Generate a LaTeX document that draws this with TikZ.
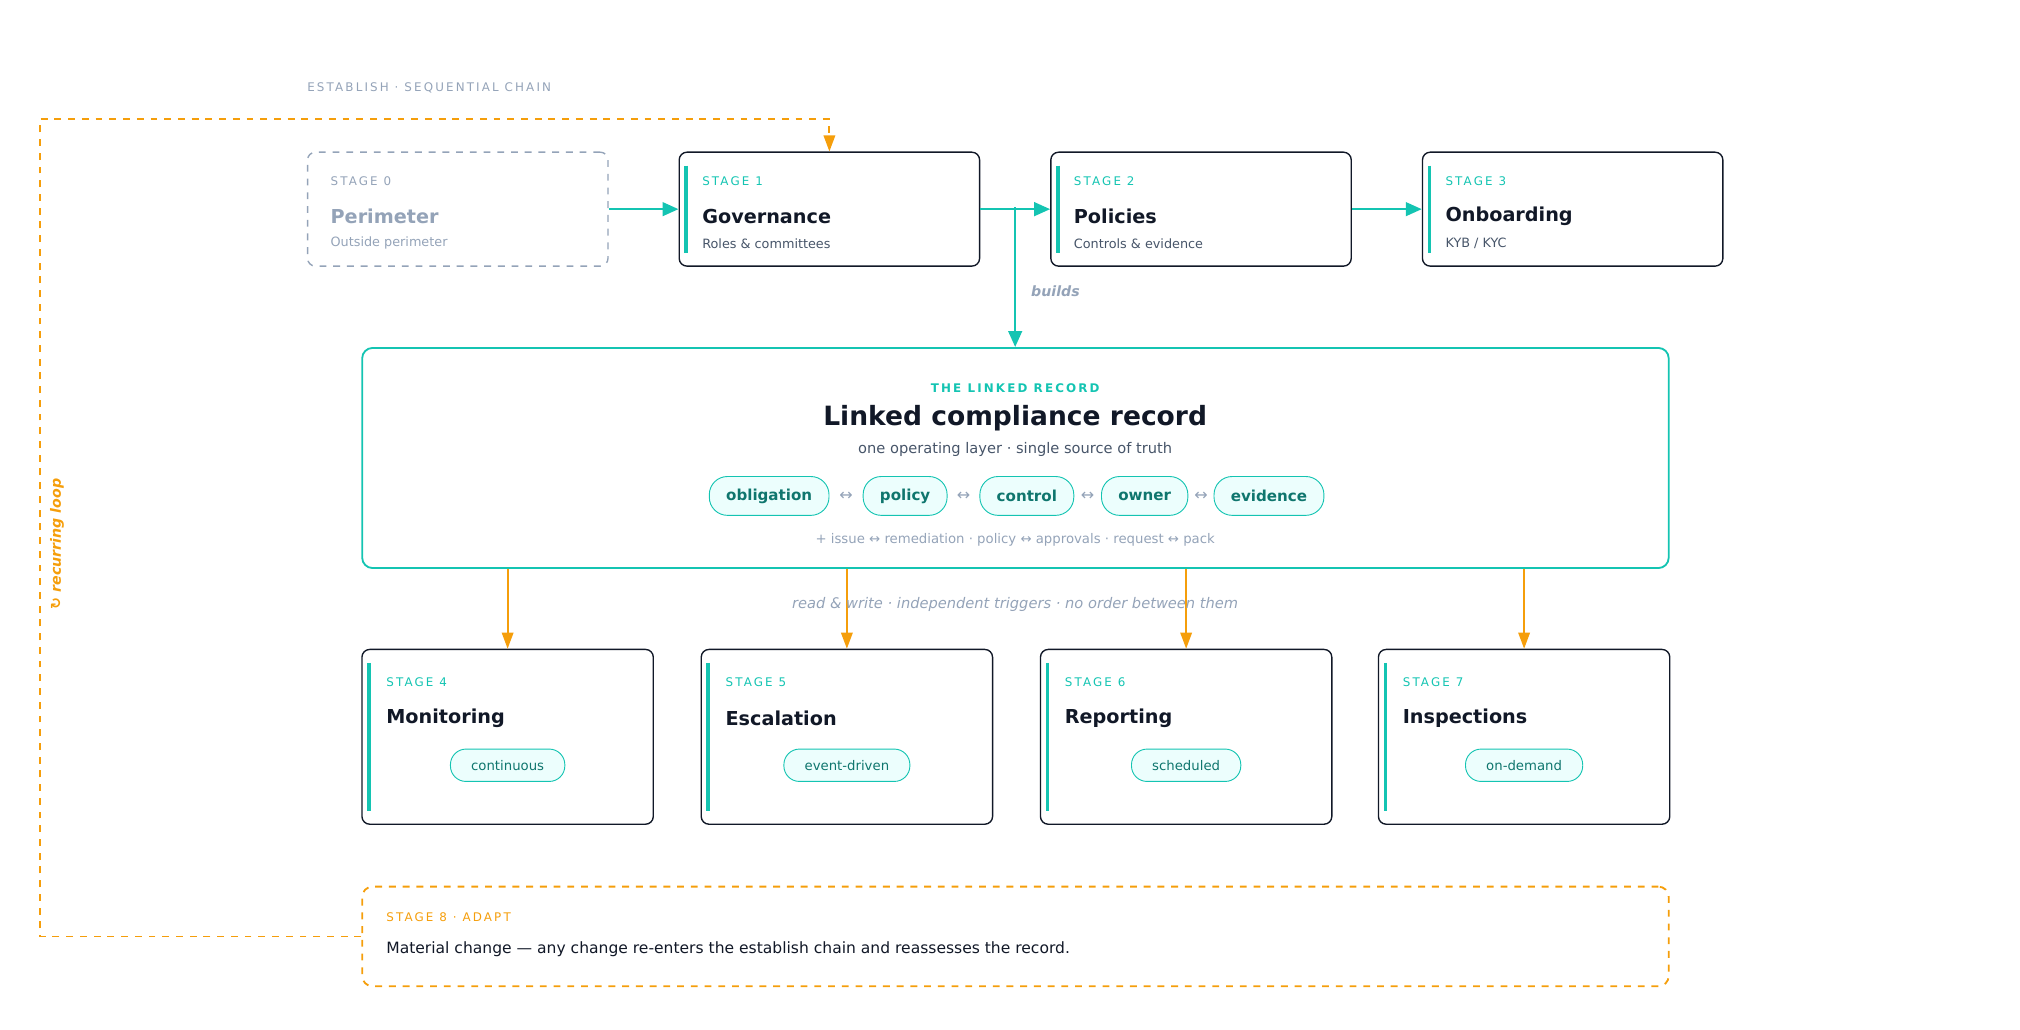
\documentclass[tikz,border=0pt]{standalone}
\usepackage{fontspec}
\setmainfont{DejaVu Sans}
\usetikzlibrary{arrows.meta,positioning,calc}
\definecolor{teal1}{HTML}{14C4B2}
\definecolor{ink}{HTML}{111827}
\definecolor{slate}{HTML}{94A3B8}
\definecolor{body}{HTML}{475569}
\definecolor{amber}{HTML}{F59E0B}
\definecolor{pillbg}{HTML}{ECFEFD}
\definecolor{pilltx}{HTML}{0F766E}
\newdimen\px \px=0.0199cm
\newcommand{\spaced}[1]{{\addfontfeature{LetterSpace=18}#1}}
\tikzset{
  stagebox/.style={draw=ink,rounded corners=6\px,minimum width=232\px,minimum height=88\px,line width=0.6pt,anchor=north west},
  lowbox/.style={draw=ink,rounded corners=6\px,minimum width=225\px,minimum height=135\px,line width=0.6pt,anchor=north west},
  kicker/.style={anchor=west,inner xsep=0pt,font=\fontsize{5.2}{6}\selectfont,text=teal1},
  stitle/.style={anchor=west,inner xsep=0pt,font=\fontsize{8.4}{10}\selectfont\bfseries,text=ink},
  ssub/.style={anchor=west,inner xsep=0pt,font=\fontsize{5.6}{7}\selectfont,text=body},
  bar/.style={teal1,line width=1.6pt},
  pill/.style={draw=teal1,fill=pillbg,rounded corners=14\px,minimum height=30\px,inner xsep=13\px,font=\fontsize{6.6}{8}\selectfont\bfseries,text=pilltx},
  tag/.style={draw=teal1,fill=pillbg,rounded corners=12\px,minimum height=25\px,inner xsep=16\px,font=\fontsize{5.8}{7}\selectfont,text=pilltx},
  link/.style={font=\fontsize{7}{8}\selectfont,text=slate},
  flow/.style={teal1,line width=1pt,-{Triangle[length=7pt,width=6pt]}},
  feed/.style={amber,line width=0.8pt,-{Triangle[length=7pt,width=5pt]}},
}
\begin{document}
\begin{tikzpicture}[x=0.0199cm,y=-0.0199cm]
\useasboundingbox (0,0) rectangle (1560,795);
% establish chain
\node[kicker,text=slate] (chainlbl) at (237,68) {\spaced{ESTABLISH · SEQUENTIAL CHAIN}};
\node[stagebox,draw=slate,dashed] (s0) at (237,117) {};
\node[stagebox] (s1) at (524,117) {};
\node[stagebox] (s2) at (811,117) {};
\node[stagebox] (s3) at (1098,117) {};
\node[kicker,text=slate] at (255,140) {\spaced{STAGE 0}};
\node[stitle,text=slate] at (255,167) {Perimeter};
\node[ssub,text=slate] at (255,188) {Outside perimeter};
\foreach \b/\k/\t/\s in {s1/STAGE 1/Governance/Roles \& committees,s2/STAGE 2/Policies/Controls \& evidence,s3/STAGE 3/Onboarding/KYB \slash{} KYC}{
  \draw[bar] ([xshift=6\px,yshift=-11\px]\b.north west) -- ([xshift=6\px,yshift=11\px]\b.south west);
  \node[kicker] at ([xshift=18\px,yshift=-23\px]\b.north west) {\spaced{\k}};
  \node[stitle] at ([xshift=18\px,yshift=-50\px]\b.north west) {\t};
  \node[ssub] at ([xshift=18\px,yshift=-71\px]\b.north west) {\s};
}
\draw[flow] (s0.east) -- (s1.west);
\draw[flow] (s1.east) -- (s2.west);
\draw[flow] (s2.east) -- (s3.west);
% linked record
\node[draw=teal1,line width=0.8pt,rounded corners=8\px,minimum width=1009\px,minimum height=170\px,anchor=north west] (rec) at (279,268) {};
\coordinate (tap) at (784,160);
\draw[flow] (tap) -- (tap|-rec.north);
\node[anchor=west,inner xsep=0pt,font=\fontsize{6.2}{7}\selectfont\bfseries\itshape,text=slate] (buildslbl) at (796,225) {builds};
\node[font=\fontsize{5.2}{6}\selectfont\bfseries,text=teal1] (reckick) at (784,300) {\spaced{THE LINKED RECORD}};
\node[font=\fontsize{11.6}{14}\selectfont\bfseries,text=ink] (rectitle) at (784,323) {Linked compliance record};
\node[font=\fontsize{6.4}{8}\selectfont,text=body] (recsub) at (784,347) {one operating layer · single source of truth};
\node[pill] (p1) at (594,383) {obligation};
\node[pill] (p2) at (699,383) {policy};
\node[pill] (p3) at (793,383) {control};
\node[pill] (p4) at (884,383) {owner};
\node[pill] (p5) at (980,383) {evidence};
\foreach \a/\b in {p1/p2,p2/p3,p3/p4,p4/p5}
  \node[link] at ($(\a.east)!0.5!(\b.west)$) {↔};
\node[font=\fontsize{5.8}{7}\selectfont,text=slate] (recfoot) at (784,417) {+ issue ↔ remediation · policy ↔ approvals · request ↔ pack};
% operate stages
\node[lowbox] (s4) at (279,501) {};
\node[lowbox] (s5) at (541,501) {};
\node[lowbox] (s6) at (803,501) {};
\node[lowbox] (s7) at (1064,501) {};
\foreach \b/\k/\t/\g in {s4/STAGE 4/Monitoring/continuous,s5/STAGE 5/Escalation/event-driven,s6/STAGE 6/Reporting/scheduled,s7/STAGE 7/Inspections/on-demand}{
  \draw[bar] ([xshift=6\px,yshift=-11\px]\b.north west) -- ([xshift=6\px,yshift=11\px]\b.south west);
  \node[kicker] at ([xshift=19\px,yshift=-26\px]\b.north west) {\spaced{\k}};
  \node[stitle] at ([xshift=19\px,yshift=-54\px]\b.north west) {\t};
  \node[tag] at ([yshift=-90\px]\b.north) {\g};
  \draw[feed] (\b.north|-rec.south) -- (\b.north);
}
\node[font=\fontsize{6.4}{8}\selectfont\itshape,text=slate] (trig) at (784,467) {read \& write · independent triggers · no order between them};
% adapt
\node[draw=amber,dashed,line width=0.8pt,rounded corners=8\px,minimum width=1009\px,minimum height=77\px,anchor=north west] (s8) at (279,684) {};
\node[kicker,text=amber] at (298,708) {\spaced{STAGE 8 · ADAPT}};
\node[anchor=west,inner xsep=0pt,font=\fontsize{6.8}{9}\selectfont,text=ink] at (298,733) {Material change — any change re-enters the establish chain and reassesses the record.};
\coordinate (loopl) at (31,92);
\draw[amber,dashed,line width=0.8pt,-{Triangle[length=7pt,width=5pt]}] (s8.west) -| (loopl) -| (s1.north);
\node[rotate=90,font=\fontsize{6.2}{7}\selectfont\bfseries\itshape,text=amber] (looplbl) at (44,420) {↻ recurring loop};
\end{tikzpicture}
\end{document}
